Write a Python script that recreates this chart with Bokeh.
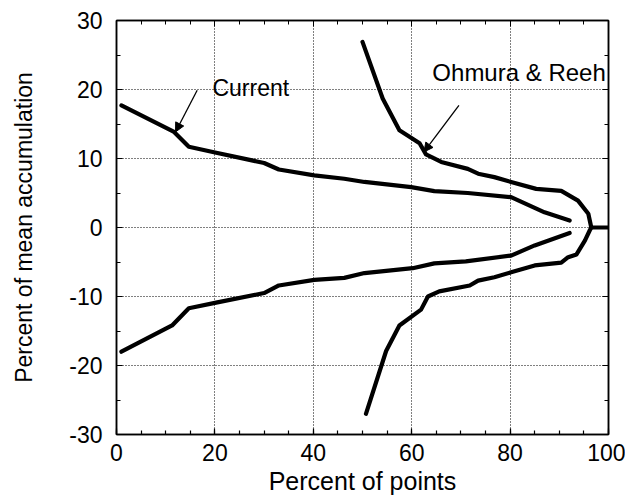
from bokeh.plotting import figure
from bokeh.models import LinearAxis, SingleIntervalTicker, Arrow, NormalHead, Range1d, ColumnDataSource, CustomJSTickFormatter
from bokeh.core.properties import value
from bokeh.embed import file_html
from bokeh.resources import INLINE

# --- data ---
cur_up_x = [1, 11.7, 14.7, 19.8, 30, 33, 40.2, 46.3, 50.4, 59.9, 64.6, 71.4, 80.2, 87, 92.1]
cur_up_y = [17.7, 13.85, 11.7, 10.9, 9.35, 8.4, 7.56, 7.07, 6.6, 5.86, 5.28, 5.0, 4.4, 2.2, 1.0]
cur_lo_x = [1, 11.3, 14.7, 20.5, 30, 33, 40.2, 46.3, 50.4, 60.2, 64.6, 71.0, 80.2, 85, 92.1]
cur_lo_y = [-18.0, -14.2, -11.7, -10.85, -9.5, -8.4, -7.6, -7.3, -6.6, -5.9, -5.2, -4.9, -4.07, -2.6, -0.8]
ohm_up_x = [50.0, 54.1, 57.5, 61.6, 62.9, 66, 71.4, 73.5, 76.8, 80.2, 85.3, 90.4, 93.8, 95.9, 96.5, 100]
ohm_up_y = [26.9, 18.7, 14.1, 12.2, 10.6, 9.5, 8.5, 7.8, 7.3, 6.6, 5.6, 5.3, 3.9, 2.0, 0.0, 0.0]
ohm_lo_x = [50.7, 54.8, 57.5, 61.9, 63.3, 65.6, 71.8, 73.5, 76.8, 80.2, 85, 90.4, 91.8, 93.5, 95.2, 96.2, 96.5]
ohm_lo_y = [-27.0, -17.9, -14.2, -11.9, -10.0, -9.25, -8.4, -7.7, -7.2, -6.5, -5.5, -5.1, -4.3, -3.9, -1.9, -0.4, 0.0]

labels = ["Current", "Ohmura & Reeh"]
label_x = [19.5, 64.2]
label_y = [20.2, 22.4]
label_size = ["23px", "24px"]
arrow_start = [(16.4, 19.9), (69.6, 17.7)]
arrow_end = [(12.0, 13.85), (62.5, 10.95)]

FONT = "Liberation Sans"

p = figure(width=625, height=500, output_backend="svg", toolbar_location=None,
           x_range=Range1d(0, 100), y_range=Range1d(-30, 30),
           min_border_left=116, min_border_right=17, min_border_top=20, min_border_bottom=66,
           x_axis_label="Percent of points", y_axis_label="Percent of mean accumulation")
p.background_fill_color = "white"
p.border_fill_color = "white"
p.outline_line_color = "black"
p.outline_line_width = 1.5

xt = SingleIntervalTicker(interval=20, num_minor_ticks=4)
yt = SingleIntervalTicker(interval=10, num_minor_ticks=2)
p.xaxis.ticker = xt
p.yaxis.ticker = yt
p.xgrid.ticker = xt
p.ygrid.ticker = yt
fmt = CustomJSTickFormatter(code="return tick.toString();")

for ax in [p.xaxis[0], p.yaxis[0]]:
    ax.formatter = fmt
    ax.major_tick_in = 6
    ax.major_tick_out = 0
    ax.minor_tick_in = 4
    ax.minor_tick_out = 0
    ax.axis_line_width = 1.5
    ax.major_tick_line_width = 1.2
    ax.minor_tick_line_width = 1.2
    ax.major_label_text_font = FONT
    ax.major_label_text_font_size = "23px"
    ax.major_label_text_color = "black"
    ax.axis_label_text_font = FONT
    ax.axis_label_text_font_size = "23px"
    ax.axis_label_text_font_style = "normal"
    ax.axis_label_text_color = "black"
p.xaxis.axis_label_text_font_size = "25px"
p.xaxis.major_label_standoff = 9
p.xaxis.axis_label_standoff = 3
p.yaxis.major_label_standoff = 14
p.yaxis.axis_label_standoff = 29

# mirrored axes (ticks only) on top and right
top = LinearAxis(ticker=xt, major_label_text_font_size="0px", major_tick_in=6, major_tick_out=0,
                 minor_tick_in=4, minor_tick_out=0, axis_line_width=1.5)
right = LinearAxis(ticker=yt, major_label_text_font_size="0px", major_tick_in=6, major_tick_out=0,
                   minor_tick_in=4, minor_tick_out=0, axis_line_width=1.5)
top.major_label_standoff = 0
right.major_label_standoff = 0
p.add_layout(top, "above")
p.add_layout(right, "right")

for g in [p.xgrid[0], p.ygrid[0]]:
    g.grid_line_color = "black"
    g.grid_line_width = 1
    g.grid_line_dash = "1 2"

for xs, ys in [(cur_up_x, cur_up_y), (cur_lo_x, cur_lo_y), (ohm_up_x, ohm_up_y), (ohm_lo_x, ohm_lo_y)]:
    p.line(xs, ys, line_color="black", line_width=4.2, line_join="round", line_cap="round")

src = ColumnDataSource(dict(x=label_x, y=label_y, t=labels, s=label_size))
p.text(x="x", y="y", text="t", source=src, text_font=value(FONT), text_font_size="s",
       text_align="left", text_baseline="middle", text_color="black")

for (x0, y0), (x1, y1) in zip(arrow_start, arrow_end):
    p.add_layout(Arrow(x_start=x0, y_start=y0, x_end=x1, y_end=y1, line_width=1.3, line_color="black",
                       end=NormalHead(size=9, fill_color="black", line_color="black")))

open("out.html", "w").write(file_html(p, INLINE))
